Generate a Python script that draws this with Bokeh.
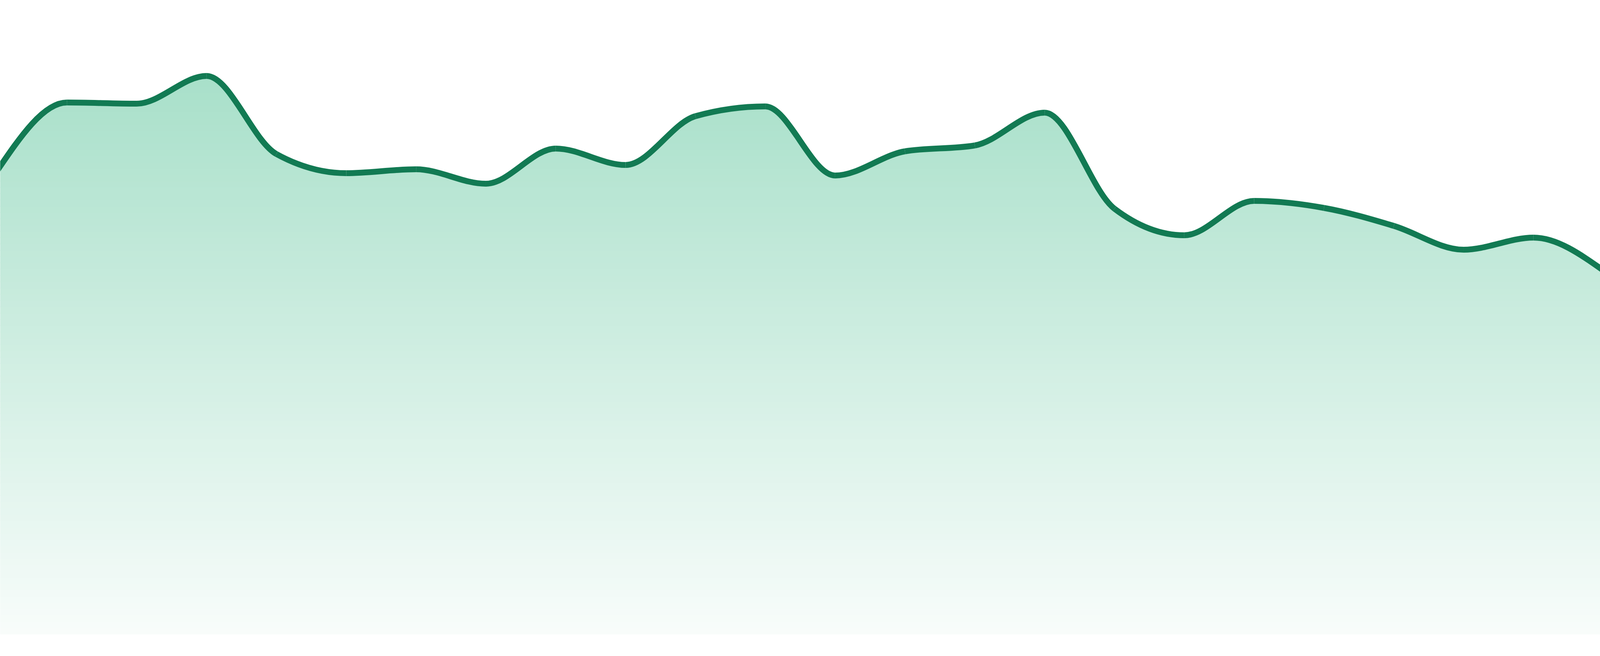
import numpy as np
from bokeh.plotting import figure
from bokeh.models import Range1d
from bokeh.embed import file_html
from bokeh.resources import INLINE

# ---- data (24 evenly spaced observations) ----
idx = list(range(24))
values = [118.7, 136.2, 135.9, 143.0, 123.0, 118.1, 119.1, 115.4,
          124.4, 120.2, 132.7, 135.2, 117.5, 123.7, 125.2, 133.6,
          109.0, 102.2, 111.0, 109.2, 104.6, 98.5, 101.6, 93.2]

LINE_COLOR = "#127a53"
FILL_RGB = (20, 170, 110)
X_START, X_END = 0.045, 22.955
Y_MIN, Y_MAX = -4.0, 162.4


def monotone_tangents(x, y):
    x = np.asarray(x, float); y = np.asarray(y, float)
    n = len(x)
    t = np.zeros(n)
    h = np.diff(x); s = np.diff(y) / h
    for i in range(1, n - 1):
        h0, h1, s0, s1 = h[i - 1], h[i], s[i - 1], s[i]
        p = (s0 * h1 + s1 * h0) / (h0 + h1)
        t[i] = (np.sign(s0) + np.sign(s1)) * min(abs(s0), abs(s1), 0.5 * abs(p))
    t[0] = (3 * s[0] - t[1]) / 2
    t[-1] = (3 * s[-1] - t[-2]) / 2
    return t


x = np.asarray(idx, float)
y = np.asarray(values, float)
t = monotone_tangents(x, y)
dx = np.diff(x) / 3.0
x0, y0 = x[:-1], y[:-1]
x1, y1 = x[1:], y[1:]
cx0, cy0 = x0 + dx, y0 + dx * t[:-1]
cx1, cy1 = x1 - dx, y1 - dx * t[1:]

# dense rendering of the bezier segments for the area fill
u = np.linspace(0, 1, 60)[:, None]
bx = ((1 - u) ** 3 * x0 + 3 * (1 - u) ** 2 * u * cx0 + 3 * (1 - u) * u ** 2 * cx1 + u ** 3 * x1).T.ravel()
by = ((1 - u) ** 3 * y0 + 3 * (1 - u) ** 2 * u * cy0 + 3 * (1 - u) * u ** 2 * cy1 + u ** 3 * y1).T.ravel()

p = figure(sizing_mode="stretch_width", height=1664, output_backend="svg",
           toolbar_location=None, x_range=Range1d(X_START, X_END),
           y_range=Range1d(Y_MIN, Y_MAX), min_border=0)
p.axis.visible = False
p.grid.visible = False
p.outline_line_color = None
p.background_fill_color = "white"
p.border_fill_color = "white"

# vertical gradient emulated with opaque bands
n_bands = 90
levels = np.linspace(0, max(values) + 2, n_bands + 1)
for k in range(n_bands):
    a_lo, a_hi = levels[k], levels[k + 1]
    mid = 0.5 * (a_lo + a_hi)
    frac = min(1.0, max(0.0, (143.2 - mid) / 143.2))  # 0 near top, 1 at baseline
    alpha = 0.37 - 0.34 * frac
    r, g, b = [int(round(255 - alpha * (255 - c))) for c in FILL_RGB]
    col = "#%02x%02x%02x" % (r, g, b)
    lo = np.minimum(by, a_lo)
    hi = np.minimum(by, a_hi + 0.15)
    p.varea(x=bx, y1=lo, y2=hi, fill_color=col, fill_alpha=1.0)

p.bezier(x0=x0, y0=y0, x1=x1, y1=y1, cx0=cx0, cy0=cy0, cx1=cx1, cy1=cy1,
         line_color=LINE_COLOR, line_width=15, line_cap="butt")

open("out.html", "w").write(file_html(p, INLINE))
